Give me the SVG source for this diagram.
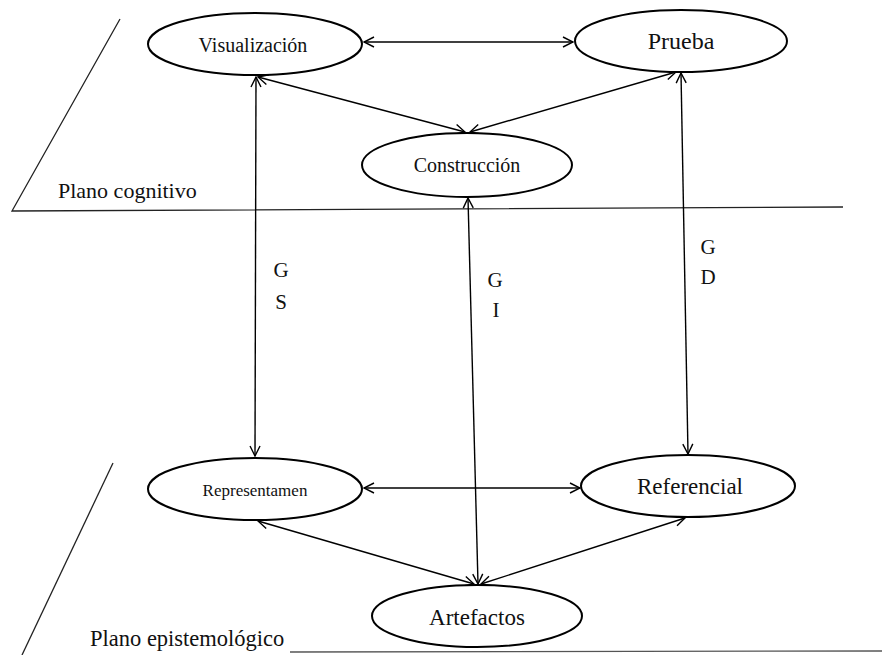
<svg xmlns="http://www.w3.org/2000/svg" width="882" height="655" viewBox="0 0 882 655">
<style>
.n ellipse{fill:#fff;stroke:#000;stroke-width:2}
text{font-family:"Liberation Serif",Tinos,"Times New Roman","DejaVu Serif","Noto Serif",serif;fill:#111;text-anchor:middle}
.c line{stroke:#000;stroke-width:1.4;marker-start:url(#ah);marker-end:url(#ah)}
.plane{stroke:#222;stroke-width:1.3;fill:none}
</style>
<defs>
<marker id="ah" viewBox="0 0 12 12" refX="11" refY="6" markerWidth="12" markerHeight="12" markerUnits="userSpaceOnUse" orient="auto-start-reverse">
<path d="M1,1 L11,6 L1,11" fill="none" stroke="#000" stroke-width="1.4"/>
</marker>
</defs>
<g id="planes">
<path class="plane" d="M120,19 L12,211 L843,207"/>
<path class="plane" d="M113,463 L22,655"/>
<line x1="290" y1="652" x2="882" y2="651" stroke="#555" stroke-width="1.3"/>
<text x="58" y="198" font-size="22" font-family="Liberation Serif, serif" style="text-anchor:start">Plano cognitivo</text>
<text x="90" y="646" font-size="22.5" font-family="Liberation Serif, serif" style="text-anchor:start">Plano epistemológico</text>
</g>
<g class="c" id="connectors">
<line x1="364" y1="42" x2="573" y2="42"/>
<line x1="258" y1="77" x2="465" y2="132"/>
<line x1="676" y1="72" x2="470" y2="132"/>
<line x1="256" y1="77" x2="255" y2="456"/>
<line x1="468" y1="198" x2="478" y2="584"/>
<line x1="681" y1="73" x2="688" y2="454"/>
<line x1="364" y1="488" x2="580" y2="488"/>
<line x1="258" y1="521" x2="474" y2="584"/>
<line x1="685" y1="518" x2="481" y2="584"/>
</g>
<g id="labels">
<text x="281" y="277" font-size="21">G</text>
<text x="281" y="309" font-size="21">S</text>
<text x="495" y="287" font-size="21">G</text>
<text x="496" y="317" font-size="21">I</text>
<text x="708" y="254" font-size="21">G</text>
<text x="708" y="284" font-size="21">D</text>
</g>
<g class="n" id="visualizacion"><ellipse cx="255" cy="44" rx="107" ry="31"/><text x="253" y="52" font-size="20">Visualización</text></g>
<g class="n" id="prueba"><ellipse cx="681" cy="41" rx="106" ry="31"/><text x="681" y="49" font-size="24">Prueba</text></g>
<g class="n" id="construccion"><ellipse cx="467" cy="165" rx="105" ry="32"/><text x="467" y="172" font-size="20">Construcción</text></g>
<g class="n" id="representamen"><ellipse cx="255" cy="489" rx="107" ry="31"/><text x="255" y="496" font-size="17">Representamen</text></g>
<g class="n" id="referencial"><ellipse cx="688" cy="486" rx="107" ry="31"/><text x="690" y="494" font-size="23">Referencial</text></g>
<g class="n" id="artefactos"><ellipse cx="477" cy="616" rx="105" ry="31"/><text x="477" y="625" font-size="23">Artefactos</text></g>
</svg>
